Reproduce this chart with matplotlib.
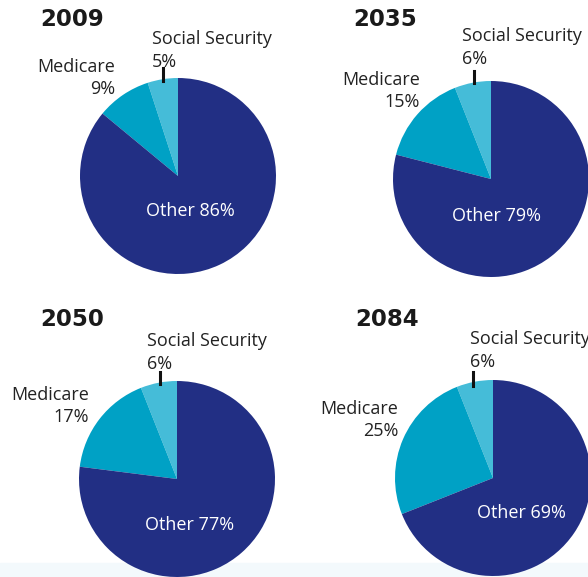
import matplotlib.pyplot as plt
from matplotlib.patches import Rectangle

years = ['2009', '2035', '2050', '2084']
social_security = [5, 6, 6, 6]
medicare = [9, 15, 17, 25]
other = [86, 79, 77, 69]

colors = ['#45bcd8', '#00a1c5', '#222f84']

# layout in pixels (y measured from top)
centers = [(178, 176), (491, 179), (177, 479), (493, 478)]
radius = 98
title_pos = [(40, 20), (353, 19), (40, 319), (355, 319)]
med_pos = [(115, 67), (420, 80), (89, 395), (398, 409)]
ss_pos = [(152, 39), (462, 36), (147, 341), (470, 339)]
tick_x = [163, 474, 160, 473]
tick_y = [(68, 81), (71, 83), (372, 384), (372, 386)]
other_off = [(12, 35), (6, 37), (13, 46), (28, 35)]

W, H = 588, 577
fig = plt.figure(figsize=(W / 100, H / 100), dpi=100)
ax = fig.add_axes([0, 0, 1, 1])

ax.add_patch(Rectangle((0, 0), W, 14, color='#f3f9fc', zorder=0))

font = 'Open Sans'
fs = 13

for i, yr in enumerate(years):
    cx, cy = centers[i]
    vals = [social_security[i], medicare[i], other[i]]
    ax.pie(vals, colors=colors, startangle=90, counterclock=True,
           center=(cx, H - cy), radius=radius, frame=True,
           wedgeprops=dict(linewidth=0))
    tx, ty = title_pos[i]
    ax.text(tx, H - ty, yr, fontsize=16.5, fontweight='heavy',
            family='DejaVu Sans', color='#1a1a1a', va='center', ha='left')
    mx, my = med_pos[i]
    ax.text(mx, H - my, 'Medicare', fontsize=fs, family=font,
            color='#222222', ha='right', va='center')
    ax.text(mx, H - my - 22, f'{medicare[i]}%', fontsize=fs, family=font,
            color='#222222', ha='right', va='center')
    sx, sy = ss_pos[i]
    ax.text(sx, H - sy, 'Social Security', fontsize=fs, family=font,
            color='#222222', ha='left', va='center')
    ax.text(sx, H - sy - 23, f'{social_security[i]}%', fontsize=fs, family=font,
            color='#222222', ha='left', va='center')
    y0, y1 = tick_y[i]
    ax.plot([tick_x[i], tick_x[i]], [H - y0, H - y1], color='#111111', lw=2.2)
    ox, oy = other_off[i]
    ax.text(cx + ox, H - cy - oy, f'Other {other[i]}%', fontsize=fs,
            family=font, color='white', ha='center', va='center')

ax.set_xlim(0, W)
ax.set_ylim(0, H)
ax.set_aspect('auto')
ax.axis('off')
fig.savefig('out.png', dpi=100)
